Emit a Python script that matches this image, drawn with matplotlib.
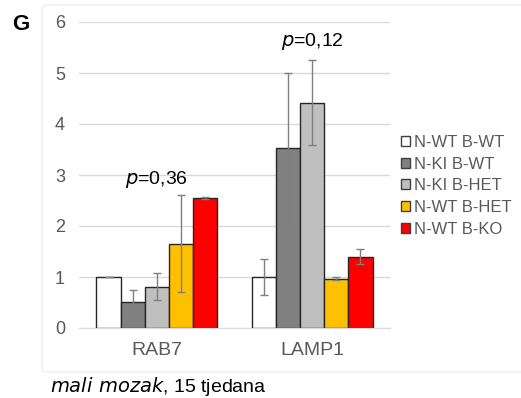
import matplotlib.pyplot as plt
import numpy as np
from matplotlib.patches import FancyBboxPatch, Patch

# --- Dados ---
categories = ['RAB7', 'LAMP1']
groups = ['N-WT B-WT', 'N-KI B-WT', 'N-KI B-HET', 'N-WT B-HET', 'N-WT B-KO']
colors = ['#ffffff', '#808080', '#bfbfbf', '#ffc000', '#ff0000']

means = [
    [1.00, 1.00],   # N-WT B-WT
    [0.51, 3.53],   # N-KI B-WT
    [0.81, 4.42],   # N-KI B-HET
    [1.65, 0.97],   # N-WT B-HET
    [2.55, 1.40],   # N-WT B-KO
]
errors = [
    [0.00, 0.35],
    [0.24, 1.47],
    [0.27, 0.83],
    [0.95, 0.03],
    [0.02, 0.15],
]
p_labels = ['0,36', '0,12']
p_ypos = [2.92, 5.62]

yticks = [0, 1, 2, 3, 4, 5, 6]

plt.rcParams['font.family'] = ['Liberation Sans', 'DejaVu Sans']

fig = plt.figure(figsize=(5.21, 3.98), dpi=100)

# moldura clara do gráfico
frame = FancyBboxPatch((42 / 521, 1 - 372 / 398), 1, (372 - 5) / 398,
                       boxstyle='round,pad=0,rounding_size=0.01',
                       transform=fig.transFigure, facecolor='none',
                       edgecolor='#eeeeee', linewidth=1, zorder=-1)
fig.patches.append(frame)

ax = fig.add_axes([79 / 521, 1 - 328 / 398, 311 / 521, 306 / 398])
ax.set_facecolor('none')

x = np.arange(len(categories))
width = 0.155
for i, g in enumerate(groups):
    pos = x + (i - 2) * width
    ax.bar(pos, means[i], width, color=colors[i], edgecolor='#262626',
           linewidth=1.0, label=g, zorder=2)
    ax.errorbar(pos, means[i], yerr=errors[i], fmt='none', ecolor='#7f7f7f',
                elinewidth=1.0, capsize=3, capthick=1.0, zorder=3)

for xi, pl, py in zip(x, p_labels, p_ypos):
    ax.text(xi, py, r'$\it{p}$' + '=' + pl, ha='center', va='center',
            fontsize=14, color='black')

ax.set_xlim(-0.5, 1.5)
ax.set_ylim(0, 6)
ax.set_yticks(yticks)
ax.set_xticks(x)
ax.set_xticklabels(categories)
ax.yaxis.grid(True, color='#d9d9d9', linewidth=1)
ax.set_axisbelow(True)
for s in ['top', 'right', 'left']:
    ax.spines[s].set_visible(False)
ax.spines['bottom'].set_color('#d9d9d9')
ax.tick_params(axis='both', length=0, labelsize=14, colors='#595959')
ax.tick_params(axis='y', labelsize=13, pad=10)
ax.tick_params(axis='x', pad=10)

handles = [Patch(facecolor=c, edgecolor='#404040', linewidth=1) for c in colors]
leg = fig.legend(handles, groups, loc='upper left',
                 bbox_to_anchor=(386 / 521, 1 - 120 / 398),
                 frameon=False, fontsize=12, handlelength=0.55,
                 handleheight=0.55, handletextpad=0.2, labelspacing=0.4)
for t in leg.get_texts():
    t.set_color('#595959')

fig.text(12 / 521, 1 - 25 / 398, 'G', fontsize=16, fontweight='bold',
         va='center', ha='left')
fig.text(50 / 521, 1 - 386 / 398, r'$\it{mali\ mozak}$' + ', 15 tjedana',
         fontsize=14, va='center', ha='left')

fig.savefig('out.png', dpi=100)
